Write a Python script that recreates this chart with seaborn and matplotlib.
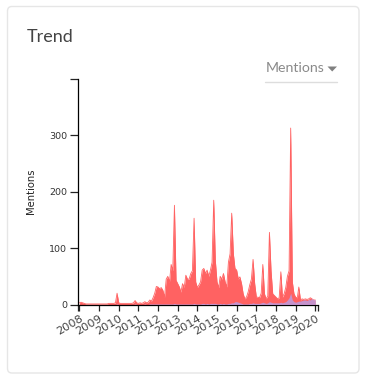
import numpy as np
import pandas as pd
import matplotlib
matplotlib.use("Agg")
import matplotlib.pyplot as plt
import matplotlib.dates as mdates
from matplotlib.patches import FancyBboxPatch, Polygon
import seaborn as sns

# ---- data (monthly mentions) ----
start_month = "2008-01-01"
end_month = "2020-01-01"
mentions = [
    3, 4, 3, 2, 1, 1, 1, 1, 1, 1, 1, 1,            # 2008
    1, 1, 1, 1, 1, 1, 2, 2, 2, 2, 3, 20,           # 2009
    3, 2, 2, 2, 2, 2, 2, 2, 2, 3, 7, 3,            # 2010
    2, 3, 2, 3, 5, 3, 4, 8, 6, 12, 20, 32,         # 2011
    31, 28, 30, 25, 13, 45, 50, 40, 71, 60, 176, 43,   # 2012
    37, 31, 22, 37, 30, 52, 45, 45, 55, 60, 153, 40,   # 2013
    30, 35, 40, 61, 64, 55, 61, 50, 61, 75, 185, 78,   # 2014
    40, 30, 50, 45, 55, 40, 31, 75, 90, 162, 90, 64,   # 2015
    61, 45, 49, 37, 19, 10, 13, 22, 35, 45, 80, 37,    # 2016
    13, 13, 12, 20, 71, 19, 10, 15, 128, 60, 19, 16,   # 2017
    13, 10, 12, 58, 13, 19, 30, 50, 60, 313, 40, 19,   # 2018
    13, 12, 31, 8, 10, 9, 10, 9, 10, 12, 10, 8,        # 2019
    8,                                                  # 2020
]
secondary = [
    0, 0, 0, 0, 0, 0, 0, 0, 0, 0, 0, 0,            # 2008
    0, 0, 0, 0, 0, 0, 0, 0, 0, 0, 0, 1,            # 2009
    0, 0, 0, 0, 0, 0, 0, 0, 0, 0, 1, 0,            # 2010
    0, 0, 0, 0, 1, 0, 0, 1, 1, 1, 1, 1,            # 2011
    1, 1, 1, 1, 1, 1, 1, 1, 1, 1, 2, 1,            # 2012
    1, 1, 1, 1, 1, 1, 1, 1, 1, 1, 2, 1,            # 2013
    1, 1, 1, 2, 2, 1, 2, 1, 2, 2, 2, 2,            # 2014
    1, 1, 2, 1, 2, 1, 1, 2, 2, 3, 3, 5,            # 2015
    5, 4, 3, 2, 1, 1, 1, 1, 2, 2, 3, 2,            # 2016
    2, 2, 2, 3, 4, 3, 2, 3, 5, 4, 3, 3,            # 2017
    3, 3, 3, 4, 3, 4, 5, 8, 12, 20, 8, 5,          # 2018
    4, 5, 6, 6, 7, 8, 8, 7, 9, 8, 11, 8,           # 2019
    9,                                             # 2020
]
year_ticks = list(range(2008, 2021))
y_ticks = [0, 100, 200, 300]
y_max = 400
title = "Trend"
dropdown_label = "Mentions"
y_label = "Mentions"

dates = pd.date_range(start_month, end_month, freq="MS")
df = pd.DataFrame({"date": dates, "mentions": mentions, "secondary": secondary})

sns.set_style("white")
plt.rcParams["font.family"] = ["DejaVu Sans"]

W, H = 366, 385
fig = plt.figure(figsize=(W / 100, H / 100), dpi=100)
fig.patch.set_facecolor("white")

# card
card = FancyBboxPatch((7.5 / W, 1 - 373 / H), (359 - 7.5) / W, (373 - 6.5) / H,
                      boxstyle="round,pad=0,rounding_size=0.012",
                      transform=fig.transFigure, facecolor="white",
                      edgecolor="#e6e6e6", linewidth=1.0, zorder=-10)
fig.patches.append(card)

fig.text(27 / W, 1 - 37 / H, title, fontsize=13, color="#444444",
         family=["Lato", "DejaVu Sans"], va="center", ha="left")
fig.text(266 / W, 1 - 68 / H, dropdown_label, fontsize=10.2, color="#8a8a8a",
         family=["Lato", "DejaVu Sans"], va="center", ha="left")
tri = Polygon([[(327.5) / W, 1 - 66.5 / H], [(337) / W, 1 - 66.5 / H], [(332.2) / W, 1 - 71.5 / H]],
              closed=True, transform=fig.transFigure, facecolor="#808080", edgecolor="none")
fig.patches.append(tri)
fig.add_artist(plt.Line2D([265 / W, 337 / W], [1 - 81.5 / H, 1 - 81.5 / H],
                          transform=fig.transFigure, color="#dddddd", lw=1))

ax = fig.add_axes([77.5 / W, 1 - 304.5 / H, (317.7 - 77.5) / W, (304.5 - 79) / H])
ax.set_facecolor("none")
ax.set_zorder(5)

red = "#ff6262"
purple = "#b3a4f0"
ax.fill_between(df["date"], 0, df["mentions"], color=red, lw=0, zorder=2)
sns.lineplot(data=df, x="date", y="mentions", ax=ax, color=red, lw=0.6, zorder=2)
ax.fill_between(df["date"], 0, df["secondary"], color=purple, lw=0, alpha=0.75, zorder=3)

x0 = pd.Timestamp("2007-11-27")
x1 = pd.Timestamp("2020-02-15")
ax.set_xlim(x0, x1)
ax.set_ylim(0, y_max)

ax.set_xticks([pd.Timestamp(f"{y}-01-01") for y in year_ticks])
ax.xaxis.set_major_formatter(mdates.DateFormatter("%Y"))
ax.set_xticks([x0, x1], minor=True)
ax.set_yticks(y_ticks)
ax.set_yticks([0, y_max], minor=True)

for s in ["top", "right"]:
    ax.spines[s].set_visible(False)
for s in ["left", "bottom"]:
    ax.spines[s].set_color("black")
    ax.spines[s].set_linewidth(0.9)

ax.tick_params(axis="both", which="both", direction="out", length=6, width=0.9,
               color="#222222", labelcolor="#333333", pad=1.5,
               left=True, bottom=True)
ax.tick_params(axis="y", labelsize=6.8)
ax.tick_params(axis="x", which="both", length=4.5, pad=2)
for lab in ax.get_xticklabels():
    lab.set_rotation(31)
    lab.set_ha("right")
    lab.set_rotation_mode("anchor")
    lab.set_fontsize(8.2)
    lab.set_color("#444444")
ax.set_xlabel("")
ax.set_ylabel(y_label, fontsize=7.2, color="#222222")
ax.yaxis.set_label_coords(-0.172, 0.5)

fig.savefig("out.png", dpi=100, facecolor="white")
